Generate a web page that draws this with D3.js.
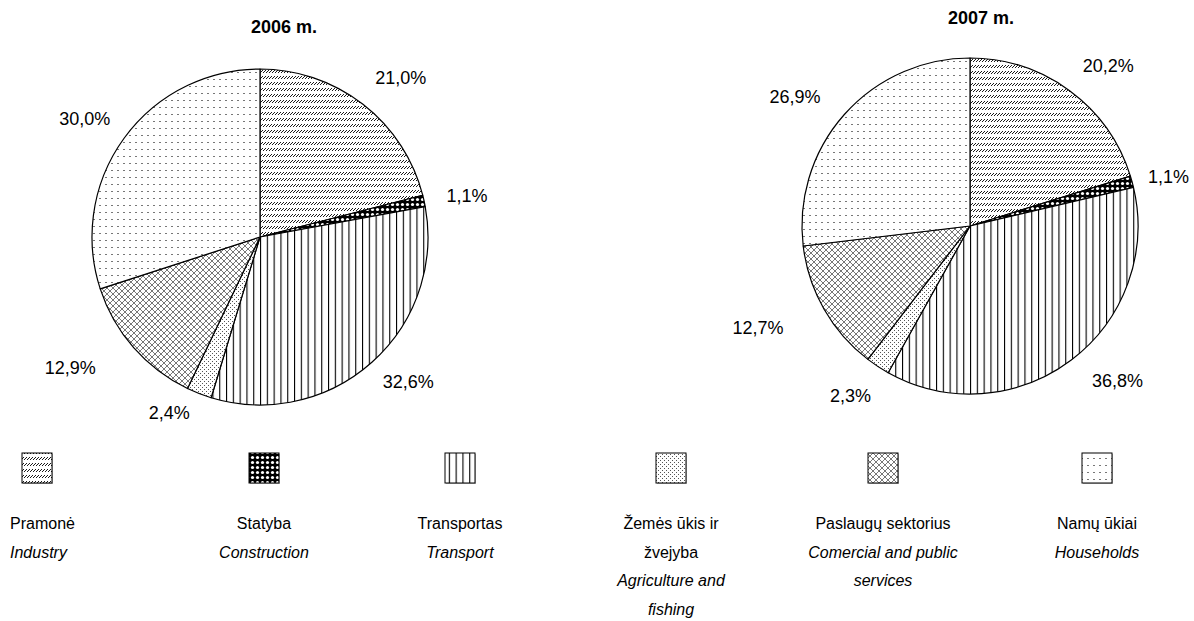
<!DOCTYPE html>
<html>
<head>
<meta charset="utf-8">
<script src="https://cdn.jsdelivr.net/npm/d3@7/dist/d3.min.js"></script>
<style>
  html, body { margin: 0; padding: 0; background: #fff; }
  svg { display: block; font-family: "Liberation Sans", Arial, sans-serif; }
</style>
</head>
<body>
<svg id="chart" width="1194" height="621"></svg>
<script>
// ---- data ----
const years = ["2006 m.", "2007 m."];
const categories = ["Pramonė", "Statyba", "Transportas", "Žemės ūkis ir žvejyba", "Paslaugų sektorius", "Namų ūkiai"];
const legendLT = [["Pramonė"], ["Statyba"], ["Transportas"], ["Žemės ūkis ir", "žvejyba"], ["Paslaugų sektorius"], ["Namų ūkiai"]];
const legendEN = [["Industry"], ["Construction"], ["Transport"], ["Agriculture and", "fishing"], ["Comercial and public", "services"], ["Households"]];
const values2006 = [21.0, 1.1, 32.6, 2.4, 12.9, 30.0];
const values2007 = [20.2, 1.1, 36.8, 2.3, 12.7, 26.9];
const seriesValues = [values2006, values2007];

// ---- layout ----
const svg = d3.select("#chart");
const R = 168;
const pieCenters = [[260, 237], [970, 226]];
const titlePos = [[284, 33], [981, 24]];
const labelPad = 26;
const labelNudge = [
  [[8, 0], [0, 2], [4, -5], [-14, -12], [-27, -2], [0, 0]],
  [[10, 2], [-6, 4], [17, -6], [-3, 2], [-24, 2], [-13, 5]]
];
const legendCenters = [37, 264, 460, 671, 883, 1097];

// ---- patterns ----
const defs = svg.append("defs");
function pat(id, w, h, draw) {
  const p = defs.append("pattern").attr("id", id).attr("patternUnits", "userSpaceOnUse")
    .attr("width", w).attr("height", h);
  p.append("rect").attr("width", w).attr("height", h).attr("fill", "#fff");
  draw(p);
}
// Industry: rows of small upward diagonal dashes
pat("p0", 3, 6, p => {
  p.append("line").attr("x1", 0).attr("y1", 4).attr("x2", 3).attr("y2", 1)
    .attr("stroke", "#000").attr("stroke-width", 0.9);
});
// Construction: black with white dots
pat("p1", 5, 5, p => {
  p.select("rect").attr("fill", "#000");
  p.append("circle").attr("cx", 2.5).attr("cy", 2.5).attr("r", 1.6).attr("fill", "#fff");
});
// Transport: vertical lines
pat("p2", 6.8, 10, p => {
  p.append("rect").attr("x", 0).attr("y", 0).attr("width", 1.1).attr("height", 10).attr("fill", "#000");
});
// Agriculture: fine stipple
pat("p3", 4, 4, p => {
  p.append("rect").attr("x", 0).attr("y", 0).attr("width", 1).attr("height", 1).attr("fill", "#555");
  p.append("rect").attr("x", 2).attr("y", 2).attr("width", 1).attr("height", 1).attr("fill", "#555");
});
// Commercial: diagonal lattice
pat("p4", 6, 6, p => {
  p.append("path").attr("d", "M0,0L6,6M6,0L0,6").attr("stroke", "#777").attr("stroke-width", 1);
});
// Households: sparse grey dashes
pat("p5", 6, 7, p => {
  p.append("rect").attr("x", 1).attr("y", 3).attr("width", 2).attr("height", 1).attr("fill", "#777");
});
const fills = categories.map((c, i) => `url(#p${i})`);

// ---- pies ----
const pie = d3.pie().sort(null).value(d => d);
const arc = d3.arc().innerRadius(0).outerRadius(R);
const fmt = v => d3.format(".1f")(v).replace(".", ",") + "%";

seriesValues.forEach((vals, yi) => {
  const [cx, cy] = pieCenters[yi];
  const g = svg.append("g").attr("transform", `translate(${cx},${cy})`);
  const arcs = pie(vals);
  g.selectAll("path.slice").data(arcs).enter().append("path")
    .attr("class", "slice")
    .attr("d", arc)
    .attr("fill", (d, i) => fills[i])
    .attr("stroke", "#000")
    .attr("stroke-width", 1.2)
    .attr("stroke-linejoin", "round");

  // labels
  const fs = 18;
  arcs.forEach((d, i) => {
    const a = (d.startAngle + d.endAngle) / 2;
    const rr = R + labelPad;
    const txt = fmt(d.data);
    const tw = txt.length * fs * 0.5;
    const x = Math.sin(a) * rr + Math.sin(a) * tw / 2 + labelNudge[yi][i][0];
    const y = -Math.cos(a) * rr - Math.cos(a) * fs * 0.4 + labelNudge[yi][i][1];
    g.append("text").attr("x", x).attr("y", y)
      .attr("text-anchor", "middle").attr("dominant-baseline", "central")
      .attr("font-size", fs).attr("fill", "#000").text(txt);
  });

  svg.append("text").attr("x", titlePos[yi][0]).attr("y", titlePos[yi][1])
    .attr("text-anchor", "middle").attr("font-size", 18).attr("font-weight", "bold")
    .text(years[yi]);
});

// ---- legend ----
const boxS = 30, boxY = 453;
const lg = svg.append("g");
categories.forEach((c, i) => {
  const x = legendCenters[i];
  lg.append("rect").attr("x", x - boxS / 2 + 1).attr("y", boxY + 1).attr("width", boxS).attr("height", boxS)
    .attr("fill", "#bbb");
  lg.append("rect").attr("x", x - boxS / 2).attr("y", boxY).attr("width", boxS).attr("height", boxS)
    .attr("fill", fills[i]).attr("stroke", "#000").attr("stroke-width", 1);
  const lines = [...legendLT[i].map(t => ({ t, it: false })), ...legendEN[i].map(t => ({ t, it: true }))];
  lines.forEach((ln, k) => {
    lg.append("text").attr("x", i === 0 ? 10 : x).attr("y", 529 + k * 28.5)
      .attr("text-anchor", i === 0 ? "start" : "middle")
      .attr("font-size", 16).attr("font-style", ln.it ? "italic" : "normal")
      .text(ln.t);
  });
});
</script>
</body>
</html>
